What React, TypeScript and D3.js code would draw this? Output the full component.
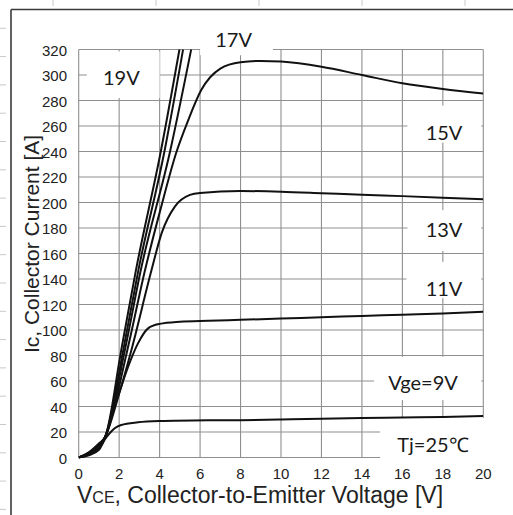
import React from "react";
import * as d3 from "d3";

const W = 513;
const H = 515;

// Tick values
const xTicks = [0, 2, 4, 6, 8, 10, 12, 14, 16, 18, 20];
const yTicks = [0, 20, 40, 60, 80, 100, 120, 140, 160, 180, 200, 220, 240, 260, 280, 300, 320];

// Curves: [Vce, Ic]
const steepA: [number, number][] = [[0, 0], [0.5, 4], [1, 11], [1.3, 16], [2.1, 84], [2.83, 147], [4.07, 241], [4.98, 320]];
const steepB: [number, number][] = [[0, 0], [0.5, 3.7], [1, 10.5], [1.3, 16], [2.2, 84], [2.95, 147], [4.25, 241], [5.16, 320]];
const steepC: [number, number][] = [[0, 0], [0.5, 3.4], [1, 10], [1.3, 16], [2.28, 84], [3.07, 147], [4.53, 241], [5.56, 320]];
const vge15: [number, number][] = [[0, 0], [0.5, 3], [1, 9], [1.3, 16], [2.4, 84], [3.28, 147], [4.05, 195], [4.84, 240], [5.4, 264], [6.05, 288], [7, 305], [8, 310], [9, 311], [10, 310.5], [12, 306.5], [14, 300], [16, 293.5], [18, 289], [20, 285.5]];
const vge13: [number, number][] = [[0, 0], [0.5, 2.6], [1, 8], [1.3, 15.5], [2, 50], [2.6, 84], [3.6, 147], [4.1, 176], [4.76, 197], [5.5, 206], [6, 207.5], [8, 209], [10, 208.5], [12, 207.3], [14, 206], [16, 205], [18, 203.8], [20, 202.5]];
const vge11: [number, number][] = [[0, 0], [0.5, 2.2], [1, 7], [1.3, 15], [1.53, 27], [1.78, 40], [2.1, 55.5], [2.44, 71], [2.93, 89.5], [3.43, 101.3], [4, 104.8], [5, 106.5], [6.4, 107.3], [8, 108], [10, 109], [12, 110], [14, 111], [16, 112], [18, 113], [20, 114.3]];
const vge9: [number, number][] = [[0, 0], [0.5, 1.8], [1, 6], [1.28, 14], [1.53, 19], [1.78, 22.9], [2.1, 25.5], [2.93, 27.6], [4, 28.6], [6.4, 29.2], [8, 29.3], [10, 29.8], [12, 30.4], [14, 31], [16, 31.4], [18, 31.8], [20, 32.5]];

const curves = [steepA, steepB, steepC, vge15, vge13, vge11, vge9];

// Curve labels: [text, Vce position, Ic position]
const labelTexts = ["19V", "17V", "15V", "13V", "11V", "Vge=9V", "Tj=25℃"];
const labelX = [1.2, 6.75, 17.15, 17.15, 17.15, 15.3, 15.75];
const labelY = [292, 322, 249, 173, 127, 53, 4];

// White boxes behind labels (in data units): x0, x1, y0, y1
const boxX0 = [0.4, 6.0, 16.25, 16.25, 16.2, 14.6, 14.9];
const boxX1 = [4.0, 9.6, 19.9, 19.9, 19.9, 19.9, 20.6];
const boxY0 = [282, 315.5, 247, 162, 125, 45, -6];
const boxY1 = [318.5, 335, 276, 194, 153.5, 79, 31];

export default function App() {
  const x = d3.scaleLinear().domain([0, 20]).range([78.7, 483.3]);
  const y = d3.scaleLinear().domain([0, 320]).range([457.5, 49.5]);
  const line = d3
    .line<[number, number]>()
    .x((d) => x(d[0]))
    .y((d) => y(d[1]))
    .curve(d3.curveMonotoneX);

  const gridColor = "#8f8f8f";
  const topTicks = d3.range(53, W, 103);
  const leftTicks = d3.range(28.3, H, 28.3);

  return (
    <svg
      width={W}
      height={H}
      style={{ position: "absolute", left: 0, top: 0, background: "#fff" }}
      fontFamily="'Liberation Sans', Arial, sans-serif"
    >
      <rect x={0} y={0} width={W} height={H} fill="#fff" />
      {/* page ruler ticks */}
      {topTicks.map((t, i) => (
        <line key={"tt" + i} x1={t} x2={t} y1={0} y2={6} stroke="#c8c8c8" strokeWidth={1} />
      ))}
      {leftTicks.map((t, i) => (
        <line key={"lt" + i} x1={0} x2={6} y1={t} y2={t} stroke="#c8c8c8" strokeWidth={1} />
      ))}
      {/* outer frame */}
      <line x1={11} x2={W} y1={9.5} y2={9.5} stroke="#3a3a3a" strokeWidth={1.6} />
      <line x1={11} x2={11} y1={9.5} y2={H} stroke="#3a3a3a" strokeWidth={1.6} />

      <defs>
        <clipPath id="plotClip">
          <rect x={x(0)} y={y(320) - 1} width={x(20) - x(0)} height={y(0) - y(320) + 2} />
        </clipPath>
      </defs>

      {/* grid */}
      {xTicks.map((t) => (
        <line key={"gx" + t} x1={x(t)} x2={x(t)} y1={y(0)} y2={y(320)} stroke={gridColor} strokeWidth={1.1} />
      ))}
      {yTicks.map((t) => (
        <line key={"gy" + t} x1={x(0)} x2={x(20)} y1={y(t)} y2={y(t)} stroke={gridColor} strokeWidth={1.1} />
      ))}

      {/* label boxes */}
      {labelTexts.map((t, i) => (
        <rect
          key={"bx" + i}
          x={x(boxX0[i])}
          y={y(boxY1[i])}
          width={x(boxX1[i]) - x(boxX0[i])}
          height={y(boxY0[i]) - y(boxY1[i])}
          fill="#fff"
        />
      ))}

      {/* curves */}
      <g clipPath="url(#plotClip)">
        {curves.map((c, i) => (
          <path key={"c" + i} d={line(c) || ""} fill="none" stroke="#111" strokeWidth={2} strokeLinejoin="round" />
        ))}
      </g>

      {/* tick labels */}
      {yTicks.map((t) => (
        <text key={"ty" + t} x={67} y={y(t) + 6} textAnchor="end" fontSize={15} fill="#222">
          {t}
        </text>
      ))}
      {xTicks.map((t) => (
        <text key={"tx" + t} x={x(t)} y={478.5} textAnchor="middle" fontSize={15} fill="#222">
          {t}
        </text>
      ))}

      {/* axis titles */}
      <text
        transform={`translate(39, 244) rotate(-90)`}
        textAnchor="middle"
        fontSize={21}
        fill="#222"
      >
        Ic, Collector Current [A]
      </text>
      <text x={77} y={503} fontSize={23} fill="#222">
        V<tspan fontSize={16}>CE</tspan>, Collector-to-Emitter Voltage [V]
      </text>

      {/* curve labels */}
      {labelTexts.map((t, i) => (
        <text
          key={"lb" + i}
          x={x(labelX[i])}
          y={y(labelY[i])}
          fontSize={20}
          fontFamily="Lato, 'Open Sans', sans-serif"
          fill="#1a1a1a"
        >
          {t}
        </text>
      ))}
    </svg>
  );
}
